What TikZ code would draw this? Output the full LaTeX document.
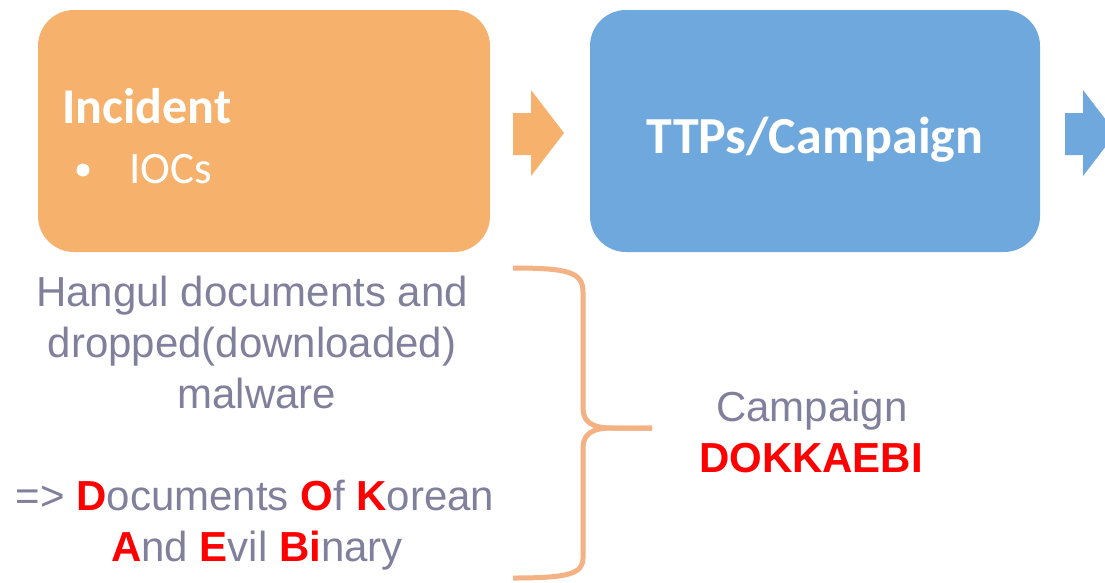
\documentclass[tikz,border=0pt]{standalone}
\usepackage{fontspec}
\setmainfont{Liberation Sans}
\newfontfamily\carl{Carlito}
\definecolor{boxorange}{RGB}{246,177,108}
\definecolor{boxblue}{RGB}{111,168,220}
\definecolor{txtgray}{RGB}{128,128,156}
\definecolor{braceor}{RGB}{244,177,131}
\definecolor{hired}{RGB}{255,0,0}
\begin{document}
\begin{tikzpicture}[x=1pt,y=-1pt,
  stagebox/.style={rounded corners=36pt},
  boxtext/.style={text=white,inner sep=0pt},
  gtxt/.style={text=txtgray,inner sep=0pt,anchor=base,font=\fontsize{42}{50}\selectfont},
  rb/.style={text=hired,font=\fontsize{42}{50}\selectfont\bfseries}]
\useasboundingbox (0,0) rectangle (1105,582);
\clip (0,0) rectangle (1105,582);
% boxes
\fill[boxorange,stagebox] (38,10) rectangle (490,252);
\fill[boxblue,stagebox] (590,10) rectangle (1040,252);
\node[boxtext,anchor=base west,font=\carl\fontsize{50}{50}\selectfont\bfseries] (inc) at (62,123) {Incident};
\fill[white] (83,170) circle (6.5);
\node[boxtext,anchor=base west,font=\carl\fontsize{45}{50}\selectfont] (iocs) at (129,183) {IOCs};
\node[boxtext,anchor=base,font=\carl\fontsize{52}{52}\selectfont\bfseries] (ttp) at (815,153) {TTPs/Campaign};
% block arrows
\fill[boxorange] (513,113) -- (531,113) -- (531,90) -- (564,133) -- (531,176) -- (531,155) -- (513,155) -- cycle;
\fill[boxblue] (1065,113) -- (1083,113) -- (1083,90) -- (1116,133) -- (1083,176) -- (1083,155) -- (1065,155) -- cycle;
% left text
\node[gtxt] (l1) at (252,306) {Hangul documents and};
\node[gtxt] (l2) at (252,357) {dropped(downloaded)};
\node[gtxt] (l3) at (257,408) {malware};
\node[gtxt] (l4) at (255,510) {=> {\color{hired}\bfseries D}ocuments {\color{hired}\bfseries O}f {\color{hired}\bfseries K}orean};
\node[gtxt] (l5) at (257,561) {{\color{hired}\bfseries A}nd {\color{hired}\bfseries E}vil {\color{hired}\bfseries Bi}nary};
% brace
\draw[braceor,line width=5pt,line join=round]
  (513,268) .. controls (568,268) and (583,272) .. (583,292)
  -- (583,408) .. controls (583,422) and (592,428) .. (612,428) -- (652,428);
\draw[braceor,line width=5pt,line join=round]
  (652,428) -- (612,428) .. controls (592,428) and (583,434) .. (583,448)
  -- (583,558) .. controls (583,574) and (568,578) .. (513,578);
% right text
\node[gtxt] (camp) at (812,421) {Campaign};
\node[gtxt,rb] (dok) at (811,472) {DOKKAEBI};
\end{tikzpicture}
\end{document}
